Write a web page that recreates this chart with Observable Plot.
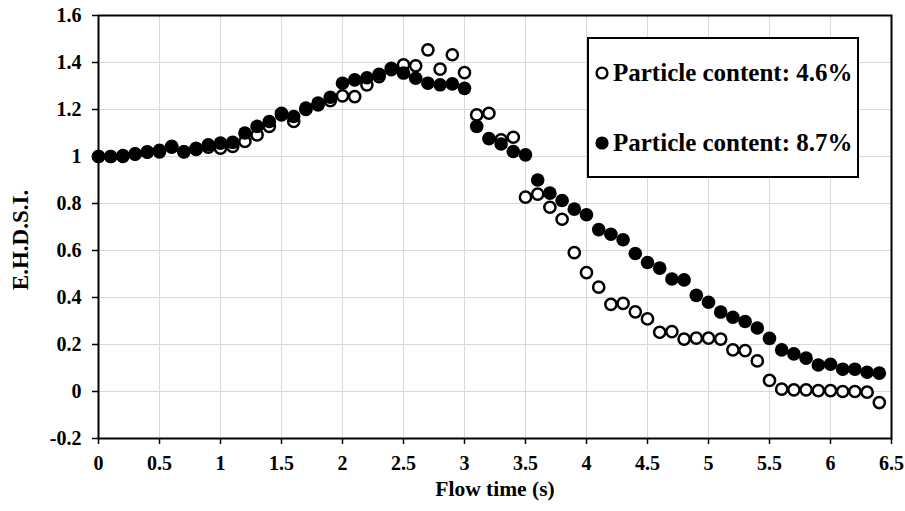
<!DOCTYPE html>
<html>
<head>
<meta charset="utf-8">
<script src="https://cdn.jsdelivr.net/npm/d3@7"></script>
<script src="https://cdn.jsdelivr.net/npm/@observablehq/plot@0.6"></script>
<style>
  body { margin: 0; background: #fff; }
  #wrap { position: relative; width: 905px; height: 511px; }
  #legend {
    position: absolute; left: 587px; top: 37px; width: 268px; height: 137px;
    border: 2px solid #000; background: #fff;
    font-family: "Liberation Serif", "Times New Roman", serif; font-weight: bold; font-size: 25px; color: #000;
  }
  .item { position: absolute; left: 5px; display: flex; align-items: center; white-space: nowrap; line-height: 28px; }
  .item svg { margin-right: 3px; }
</style>
</head>
<body>
<div id="wrap"></div>
<script>
const time = [0,0.1,0.2,0.3,0.4,0.5,0.6,0.7,0.8,0.9,1.0,1.1,1.2,1.3,1.4,1.5,1.6,1.7,1.8,1.9,2.0,2.1,2.2,2.3,2.4,2.5,2.6,2.7,2.8,2.9,3.0,3.1,3.2,3.3,3.4,3.5,3.6,3.7,3.8,3.9,4.0,4.1,4.2,4.3,4.4,4.5,4.6,4.7,4.8,4.9,5.0,5.1,5.2,5.3,5.4,5.5,5.6,5.7,5.8,5.9,6.0,6.1,6.2,6.3,6.4];
const content46 = [1.0,1.0,1.0,1.01,1.02,1.02,1.04,1.02,1.03,1.04,1.035,1.043,1.064,1.092,1.128,1.184,1.149,1.2,1.22,1.238,1.258,1.255,1.305,1.34,1.375,1.39,1.386,1.454,1.372,1.433,1.357,1.177,1.184,1.071,1.082,0.827,0.84,0.784,0.733,0.591,0.506,0.444,0.371,0.375,0.339,0.309,0.252,0.255,0.223,0.227,0.227,0.223,0.177,0.174,0.13,0.047,0.01,0.007,0.007,0.004,0.004,0.0,0.0,-0.003,-0.047];
const content87 = [1.0,1.0,1.004,1.011,1.018,1.026,1.043,1.02,1.035,1.05,1.057,1.06,1.1,1.128,1.149,1.177,1.17,1.206,1.227,1.252,1.312,1.326,1.335,1.35,1.369,1.355,1.333,1.312,1.305,1.309,1.29,1.128,1.076,1.053,1.021,1.007,0.9,0.844,0.813,0.776,0.752,0.689,0.669,0.646,0.587,0.549,0.525,0.479,0.475,0.409,0.38,0.338,0.316,0.298,0.27,0.226,0.177,0.16,0.142,0.113,0.116,0.095,0.095,0.082,0.078];
const seriesNames = ["Particle content: 4.6%", "Particle content: 8.7%"];
const xTicks = [0,0.5,1,1.5,2,2.5,3,3.5,4,4.5,5,5.5,6,6.5];
const yTicks = [-0.2,0,0.2,0.4,0.6,0.8,1.0,1.2,1.4,1.6];
const xLabel = "Flow time (s)";
const yLabel = "E.H.D.S.I.";

const d46 = time.map((t, i) => ({t, v: content46[i]}));
const d87 = time.map((t, i) => ({t, v: content87[i]}));
const fmt = d => String(+d.toFixed(1));
const font = "'Liberation Serif', 'Times New Roman', serif";

const chart = Plot.plot({
  width: 905, height: 511,
  marginLeft: 98, marginRight: 14, marginTop: 15, marginBottom: 73,
  style: {fontFamily: font, fontWeight: "bold", color: "#000", background: "#fff", overflow: "visible"},
  x: {domain: [0, 6.5]},
  y: {domain: [-0.2, 1.6]},
  marks: [
    Plot.gridX(xTicks, {stroke: "#d9d9d9", strokeOpacity: 1, strokeWidth: 1}),
    Plot.gridY(yTicks, {stroke: "#d9d9d9", strokeOpacity: 1, strokeWidth: 1}),
    Plot.frame({stroke: "#000", strokeWidth: 2}),
    Plot.axisX({ticks: xTicks, tickFormat: fmt, tickSize: 6, tickPadding: 11, fontSize: 20, label: null, strokeWidth: 1.5}),
    Plot.axisY({ticks: yTicks, tickFormat: fmt, tickSize: 6, tickPadding: 11, fontSize: 20, label: null, strokeWidth: 1.5}),
    Plot.text([xLabel], {frameAnchor: "bottom", dy: 57, fontSize: 21.5, fontWeight: "bold", fill: "#000"}),
    Plot.text([yLabel], {frameAnchor: "left", textAnchor: "middle", dx: -77.5, dy: 13, rotate: -90, fontSize: 23, fontWeight: "bold", fill: "#000"}),
    Plot.dot(d46, {x: "t", y: "v", r: 5.6, fill: "#fff", stroke: "#000", strokeWidth: 2.5}),
    Plot.dot(d87, {x: "t", y: "v", r: 6.8, fill: "#000", stroke: "none"})
  ]
});

const wrap = document.getElementById("wrap");
wrap.appendChild(chart);

const legend = document.createElement("div");
legend.id = "legend";
legend.innerHTML = `
  <div class="item" style="top:20px">
    <svg width="16" height="16"><circle cx="8" cy="8" r="5.4" fill="#fff" stroke="#000" stroke-width="2.4"/></svg>${seriesNames[0]}
  </div>
  <div class="item" style="top:90px">
    <svg width="16" height="16"><circle cx="8" cy="8" r="6.6" fill="#000"/></svg>${seriesNames[1]}
  </div>`;
wrap.appendChild(legend);
</script>
</body>
</html>
